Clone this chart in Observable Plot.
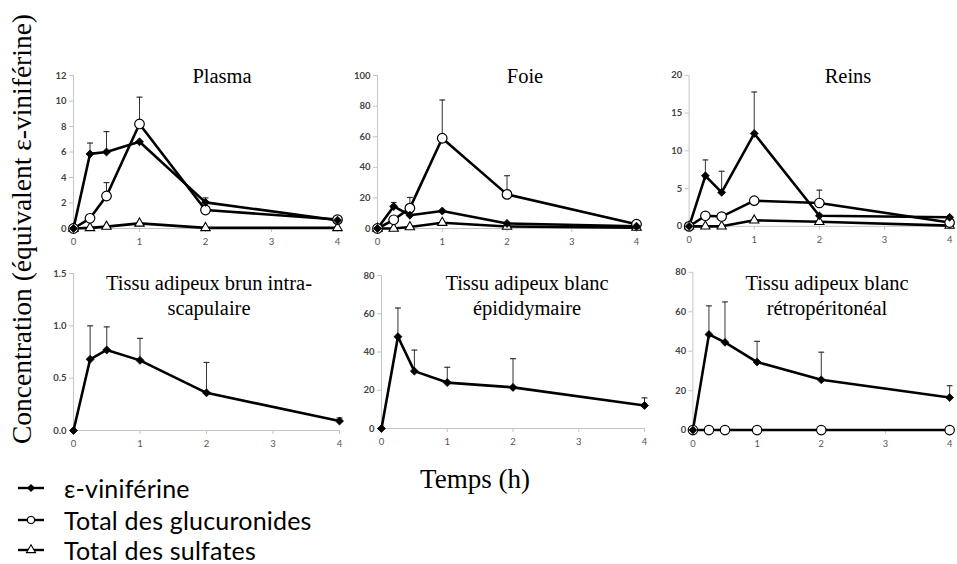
<!DOCTYPE html>
<html>
<head>
<meta charset="utf-8">
<script src="https://cdn.jsdelivr.net/npm/d3@7"></script>
<script src="https://cdn.jsdelivr.net/npm/@observablehq/plot@0.6"></script>
<style>
  html, body { margin: 0; padding: 0; background: #fff; overflow: hidden; }
  #root { position: relative; width: 957px; height: 564px; background: #fff; }
  .panel { position: absolute; }
  .ptitle { position: absolute; transform: translate(-50%, -50%); font-family: "Liberation Serif", serif; font-size: 20.5px; line-height: 25px; text-align: center; white-space: nowrap; color: #000; }
  .ylab { position: absolute; font-family: "Liberation Serif", serif; font-size: 27.5px; white-space: nowrap; transform: translate(-50%, -50%) rotate(-90deg); color: #000; }
  .xlab { position: absolute; font-family: "Liberation Serif", serif; font-size: 27px; white-space: nowrap; transform: translate(-50%, -50%); color: #000; }
  .leg { position: absolute; display: flex; align-items: center; font-family: Lato, "Open Sans", sans-serif; font-size: 25px; line-height: 22px; color: #000; white-space: nowrap; transform: translateY(-50%); }
  .leg svg { margin-right: 18px; }
  .leg span { letter-spacing: 0.2px; }
</style>
</head>
<body>
<div id="root"></div>
<script>
// ---------- data ----------
const times = [0, 0.25, 0.5, 1, 2, 4];
const xTicks = [0, 1, 2, 3, 4];

// Plasma
const plasmaVin    = [0, 5.85, 6.0, 6.8, 2.05, 0.65];
const plasmaVinErr = [null, 6.7, 7.6, null, 2.4, null];
const plasmaGlu    = [0, 0.8, 2.55, 8.2, 1.45, 0.7];
const plasmaGluErr = [null, null, 3.6, 10.3, null, null];
const plasmaSul    = [0, 0.05, 0.15, 0.4, 0.05, 0.05];
const plasmaTicks  = [0, 2, 4, 6, 8, 10, 12];

// Foie
const foieVin    = [0, 14.4, 8.7, 11.4, 3.3, 1.5];
const foieVinErr = [null, 17, null, null, null, null];
const foieGlu    = [0, 5.7, 13.3, 59, 22.3, 2.8];
const foieGluErr = [null, null, 20.3, 84, 34.5, null];
const foieSul    = [0, 0, 1, 3.8, 1.3, 0.6];
const foieTicks  = [0, 20, 40, 60, 80, 100];

// Reins
const reinsVin    = [0, 6.7, 4.5, 12.3, 1.4, 1.2];
const reinsVinErr = [null, 8.8, 7.3, 17.8, null, null];
const reinsGlu    = [0, 1.4, 1.3, 3.4, 3.1, 0.5];
const reinsGluErr = [null, null, null, null, 4.8, null];
const reinsSul    = [0, 0, 0, 0.8, 0.6, 0.1];
const reinsTicks  = [0, 5, 10, 15, 20];

// Tissu adipeux brun intra-scapulaire
const brunVin    = [0, 0.68, 0.77, 0.67, 0.36, 0.09];
const brunVinErr = [null, 1.0, 0.99, 0.88, 0.65, 0.12];
const brunTicks  = [0, 0.5, 1.0, 1.5];

// Tissu adipeux blanc épididymaire
const epiVin    = [0, 48, 30, 24, 21.5, 12];
const epiVinErr = [null, 63, 41, 32, 36.5, 16];
const epiTicks  = [0, 20, 40, 60, 80];

// Tissu adipeux blanc rétropéritonéal
const retroVin    = [0, 48.5, 44.5, 34.5, 25.5, 16.5];
const retroVinErr = [null, 63, 65, 45, 39.5, 22.5];
const retroGlu    = [0, 0, 0, 0, 0, 0];
const retroTicks  = [0, 20, 40, 60, 80];

const seriesNames = ["ε-viniférine", "Total des glucuronides", "Total des sulfates"];

// ---------- layout ----------
const root = document.getElementById("root");
const ML = 30, MR = 8, MT = 8, MB = 24;

const panels = [
  {title: ["Plasma"], tx: 222, ty: 76, left: 73, top: 75, w: 264, h: 153,
   vin: plasmaVin, vinErr: plasmaVinErr, glu: plasmaGlu, gluErr: plasmaGluErr, sul: plasmaSul,
   ticks: plasmaTicks, fmt: d3.format("d")},
  {title: ["Foie"], tx: 525, ty: 76, left: 377, top: 75, w: 259, h: 153,
   vin: foieVin, vinErr: foieVinErr, glu: foieGlu, gluErr: foieGluErr, sul: foieSul,
   ticks: foieTicks, fmt: d3.format("d")},
  {title: ["Reins"], tx: 848, ty: 76, left: 689, top: 75, w: 264, h: 153,
   vin: reinsVin, vinErr: reinsVinErr, glu: reinsGlu, gluErr: reinsGluErr, sul: reinsSul,
   ticks: reinsTicks, fmt: d3.format("d")},
  {title: ["Tissu adipeux brun intra-", "scapulaire"], tx: 209, ty: 295.5, left: 73, top: 273, w: 266, h: 157,
   vin: brunVin, vinErr: brunVinErr, ticks: brunTicks, fmt: d3.format(".1f")},
  {title: ["Tissu adipeux blanc", "épididymaire"], tx: 527, ty: 295.5, left: 381, top: 275, w: 263, h: 153,
   vin: epiVin, vinErr: epiVinErr, ticks: epiTicks, fmt: d3.format("d")},
  {title: ["Tissu adipeux blanc", "rétropéritonéal"], tx: 827, ty: 295.5, left: 693, top: 272, w: 262, h: 161,
   vin: retroVin, vinErr: retroVinErr, glu: retroGlu, ticks: retroTicks, fmt: d3.format("d")}
];

function buildRows(values, errs, s) {
  if (!values) return [];
  return times.map((t, i) => ({t, v: values[i], hi: errs ? errs[i] : null, s}));
}

for (const p of panels) {
  const vin = buildRows(p.vin, p.vinErr, "vin");
  const glu = buildRows(p.glu, p.gluErr, "glu");
  const sul = buildRows(p.sul, null, "sul");
  const all = [...vin, ...glu, ...sul];
  const errs = all.filter(d => d.hi != null);
  const yDom = [p.ticks[0], p.ticks[p.ticks.length - 1]];

  const chart = Plot.plot({
    width: p.w + ML + MR,
    height: p.h + MT + MB,
    marginLeft: ML, marginRight: MR, marginTop: MT, marginBottom: MB,
    style: {fontFamily: "Lato, 'Open Sans', sans-serif", fontSize: "9.5px", color: "#555", background: "transparent", overflow: "visible"},
    x: {domain: [0, 4], ticks: xTicks},
    y: {domain: yDom, ticks: p.ticks},
    marks: [
      Plot.ruleY([yDom[0]], {stroke: "#c4c4c4", strokeWidth: 1}),
      Plot.ruleX([0], {stroke: "#c4c4c4", strokeWidth: 1}),
      Plot.axisX({ticks: xTicks, tickSize: 4, tickPadding: 6, tickFormat: d3.format("d"), stroke: "#c4c4c4", fill: "#555", label: null}),
      Plot.axisY({ticks: p.ticks, tickSize: 4, tickPadding: 3, tickFormat: p.fmt, stroke: "#c4c4c4", fill: "#444", fontWeight: "bold", label: null}),
      Plot.ruleX(errs, {x: "t", y1: "v", y2: "hi", stroke: "#333", strokeWidth: 1}),
      Plot.link(errs, {x1: d => d.t - 0.045, x2: d => d.t + 0.045, y1: "hi", y2: "hi", stroke: "#333", strokeWidth: 1.2}),
      Plot.line(all, {x: "t", y: "v", z: "s", stroke: "#000", strokeWidth: 2.6}),
      Plot.dot(sul, {x: "t", y: "v", symbol: "triangle", r: 3.5, fill: "#fff", stroke: "#000", strokeWidth: 1.1}),
      Plot.dot(glu, {x: "t", y: "v", symbol: "circle", r: 4.8, fill: "#fff", stroke: "#000", strokeWidth: 1.2}),
      Plot.dot(vin, {x: "t", y: "v", symbol: "diamond2", r: 3.6, fill: "#000", stroke: "#000", strokeWidth: 0.8})
    ]
  });
  const wrap = document.createElement("div");
  wrap.className = "panel";
  wrap.style.left = (p.left - ML) + "px";
  wrap.style.top = (p.top - MT) + "px";
  wrap.appendChild(chart);
  root.appendChild(wrap);

  const t = document.createElement("div");
  t.className = "ptitle";
  t.style.left = p.tx + "px";
  t.style.top = p.ty + "px";
  t.innerHTML = p.title.join("<br>");
  root.appendChild(t);
}

// axis titles
const yl = document.createElement("div");
yl.className = "ylab";
yl.style.left = "22px"; yl.style.top = "229px";
yl.textContent = "Concentration (équivalent ε-viniférine)";
root.appendChild(yl);

const xl = document.createElement("div");
xl.className = "xlab";
xl.style.left = "475px"; xl.style.top = "479px";
xl.textContent = "Temps (h)";
root.appendChild(xl);

// legend
const legSymbols = ["diamond", "circle", "triangle"];
const legFill = ["#000", "#fff", "#fff"];
const legY = [488, 520, 550];
seriesNames.forEach((name, i) => {
  const item = document.createElement("div");
  item.className = "leg";
  item.style.left = "16px";
  item.style.top = legY[i] + "px";
  const svg = d3.create("svg").attr("width", 30).attr("height", 16);
  svg.append("line").attr("x1", 2).attr("x2", 28).attr("y1", 8).attr("y2", 8).attr("stroke", "#000").attr("stroke-width", 2.4);
  const sym = {diamond: d3.symbolSquare, circle: d3.symbolCircle, triangle: d3.symbolTriangle}[legSymbols[i]];
  const size = legSymbols[i] === "diamond" ? 22 : legSymbols[i] === "circle" ? 40 : 36;
  const rot = legSymbols[i] === "diamond" ? " rotate(45)" : "";
  svg.append("path").attr("d", d3.symbol(sym, size)()).attr("transform", "translate(15,8)" + rot)
    .attr("fill", legFill[i]).attr("stroke", "#000").attr("stroke-width", 1.1);
  item.appendChild(svg.node());
  const span = document.createElement("span");
  span.textContent = name;
  item.appendChild(span);
  root.appendChild(item);
});
</script>
</body>
</html>
